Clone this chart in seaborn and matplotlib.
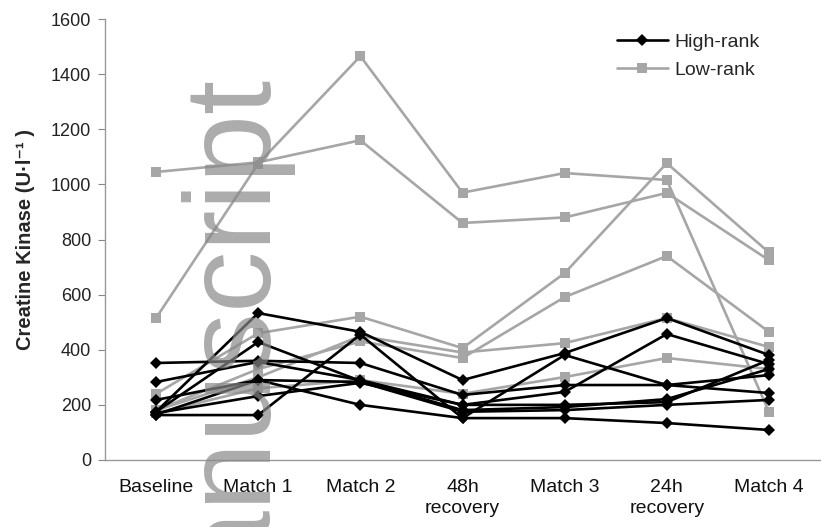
import numpy as np
import pandas as pd
import seaborn as sns
from matplotlib import pyplot as plt
from matplotlib.lines import Line2D

# time points
times = ['Baseline', 'Match 1', 'Match 2', '48h\nrecovery', 'Match 3', '24h\nrecovery', 'Match 4']

# creatine kinase, one list per player (U/l)
high_1 = [175, 533, 465, 290, 388, 515, 381]
high_2 = [163, 163, 455, 152, 381, 272, 243]
high_3 = [352, 360, 352, 236, 272, 272, 308]
high_4 = [283, 356, 290, 200, 247, 457, 348]
high_5 = [175, 428, 287, 181, 192, 221, 330]
high_6 = [218, 290, 200, 152, 152, 134, 109]
high_7 = [170, 232, 280, 200, 200, 210, 363]
high_8 = [165, 290, 283, 175, 181, 200, 218]

low_1 = [1045, 1080, 1160, 860, 880, 969, 725]
low_2 = [515, 1075, 1465, 970, 1041, 1016, 175]
low_3 = [240, 460, 520, 406, 678, 1077, 753]
low_4 = [180, 330, 430, 370, 591, 740, 465]
low_5 = [180, 300, 450, 390, 424, 515, 410]
low_6 = [170, 260, 290, 240, 301, 370, 330]

high_rank = [high_1, high_2, high_3, high_4, high_5, high_6, high_7, high_8]
low_rank = [low_1, low_2, low_3, low_4, low_5, low_6]


def toFrame(players, group):
    rows = []
    for p, vals in enumerate(players):
        for t, v in enumerate(vals):
            rows.append({'time': t, 'ck': v, 'player': group + str(p), 'group': group})
    return pd.DataFrame(rows)


df_high = toFrame(high_rank, 'High-rank')
df_low = toFrame(low_rank, 'Low-rank')

sns.set_style('white')
plt.rcParams['font.family'] = ['Liberation Sans', 'DejaVu Sans']

fig = plt.figure(figsize=(8.21, 5.27), dpi=100)
ax = fig.add_axes([105 / 821, 67 / 527, 715 / 821, 441 / 527])

gray = '#a6a6a6'
sns.lineplot(data=df_low, x='time', y='ck', units='player', estimator=None, color=gray,
             marker='s', markersize=7, markeredgewidth=0, lw=1.9, legend=False, ax=ax)
sns.lineplot(data=df_high, x='time', y='ck', units='player', estimator=None, color='black',
             marker='D', markersize=6.5, markeredgewidth=0, lw=1.9, legend=False, ax=ax)

ax.set_xlim(-0.5, 6.5)
ax.set_ylim(0, 1600)
ax.set_yticks(np.arange(0, 1601, 200))
ax.set_xticks(range(len(times)))
ax.set_xticklabels(times, fontsize=14, color='#111111', linespacing=1.3)
ax.tick_params(axis='y', labelsize=13, labelcolor='#222222', direction='out', length=5,
               color='#888888', left=True, pad=5)
ax.tick_params(axis='x', length=0, pad=14)
ax.set_xlabel('')
ax.set_ylabel('Creatine Kinase (U\u00b7l\u207b\u00b9 )', fontsize=14.5, fontweight='bold')
ax.yaxis.set_label_coords(-0.098, 0.499)

for side in ['top', 'right']:
    ax.spines[side].set_visible(False)
for side in ['left', 'bottom']:
    ax.spines[side].set_color('#999999')
    ax.spines[side].set_linewidth(1.0)

handles = [Line2D([], [], color='black', marker='D', markersize=6.5, lw=1.9, markeredgewidth=0),
           Line2D([], [], color=gray, marker='s', markersize=7, lw=1.9, markeredgewidth=0)]
ax.legend(handles, ['High-rank', 'Low-rank'], loc='upper left',
          bbox_to_anchor=(617 / 821, 494 / 527), bbox_transform=fig.transFigure,
          borderpad=0, borderaxespad=0, frameon=False, fontsize=14,
          handlelength=2.6, handletextpad=0.36, labelspacing=0.56)

# watermark of the accepted manuscript
fig.text(263 / 821, -145 / 527, 'manuscript', rotation=90, rotation_mode='anchor',
         ha='left', va='baseline', fontsize=88.5, family='Liberation Sans',
         color='#888888', alpha=0.7, zorder=10)

fig.savefig('out.png', dpi=100)
